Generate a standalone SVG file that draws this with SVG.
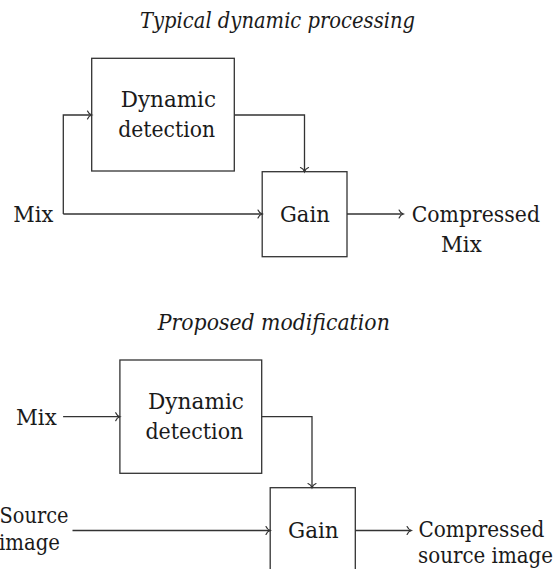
<svg xmlns="http://www.w3.org/2000/svg" width="556" height="569" viewBox="0 0 556 569">
<style>
text{font-family:"DejaVu Serif","Liberation Serif",serif;font-size:22px;fill:#1a1a1a}
.t{font-style:italic}
.box{fill:none;stroke:#333;stroke-width:1.3}
.c path{fill:none;stroke:#333;stroke-width:1.3;marker-end:url(#a)}
</style>
<defs>
<marker id="a" markerUnits="userSpaceOnUse" viewBox="-6 -6 8 12" markerWidth="8" markerHeight="12" refX="0" refY="0" orient="auto" overflow="visible">
<path d="M-4.2,-4 C-3.2,-1.6 -1.2,-0.4 0,0 C-1.2,0.4 -3.2,1.6 -4.2,4" fill="none" stroke="#333" stroke-width="1.2" stroke-linecap="round"/>
</marker>
</defs>
<rect width="556" height="569" fill="#fff"/>
<text class="t" x="140" y="28.3" textLength="275" lengthAdjust="spacingAndGlyphs">Typical dynamic processing</text>
<g id="dd1">
<rect class="box" x="91.7" y="58.3" width="142.6" height="112.7"/>
<text x="120.7" y="107.3" textLength="95.3" lengthAdjust="spacingAndGlyphs">Dynamic</text>
<text x="118.3" y="137.3" textLength="96.7" lengthAdjust="spacingAndGlyphs">detection</text>
</g>
<g id="gain1">
<rect class="box" x="262.2" y="171.7" width="84.8" height="85"/>
<text x="280" y="221.7" textLength="49.8" lengthAdjust="spacingAndGlyphs">Gain</text>
</g>
<g id="mix1"><text x="13.3" y="221.7" textLength="40" lengthAdjust="spacingAndGlyphs">Mix</text></g>
<g id="out1">
<text x="411.7" y="221.7" textLength="128.3" lengthAdjust="spacingAndGlyphs">Compressed</text>
<text x="441" y="252" textLength="40.7" lengthAdjust="spacingAndGlyphs">Mix</text>
</g>
<text class="t" x="157.8" y="330" textLength="232" lengthAdjust="spacingAndGlyphs">Proposed modification</text>
<g id="dd2">
<rect class="box" x="119.9" y="360" width="141.8" height="113.3"/>
<text x="148" y="409" textLength="96" lengthAdjust="spacingAndGlyphs">Dynamic</text>
<text x="145.4" y="439" textLength="97.9" lengthAdjust="spacingAndGlyphs">detection</text>
</g>
<g id="gain2">
<rect class="box" x="270.2" y="487.7" width="85.1" height="85"/>
<text x="288" y="538.3" textLength="50.7" lengthAdjust="spacingAndGlyphs">Gain</text>
</g>
<g id="mix2"><text x="16" y="425" textLength="40.7" lengthAdjust="spacingAndGlyphs">Mix</text></g>
<g id="src2">
<text x="-0.5" y="523.3" textLength="69" lengthAdjust="spacingAndGlyphs">Source</text>
<text x="-1" y="550" textLength="61" lengthAdjust="spacingAndGlyphs">image</text>
</g>
<g id="out2">
<text x="418.4" y="536.7" textLength="126" lengthAdjust="spacingAndGlyphs">Compressed</text>
<text x="418" y="563.3" textLength="135" lengthAdjust="spacingAndGlyphs">source image</text>
</g>
<g id="connectors" class="c">
<path d="M63.3,214 V115 H91.7"/>
<path d="M63.3,214 H262.2"/>
<path d="M234.3,115 H304.5 V171.7"/>
<path d="M347,214 H403.3"/>
<path d="M63.1,416.7 H119.9"/>
<path d="M261.7,416.7 H312 V487.7"/>
<path d="M72.5,530.5 H270.2"/>
<path d="M355.3,530.5 H411.3"/>
</g>
</svg>
